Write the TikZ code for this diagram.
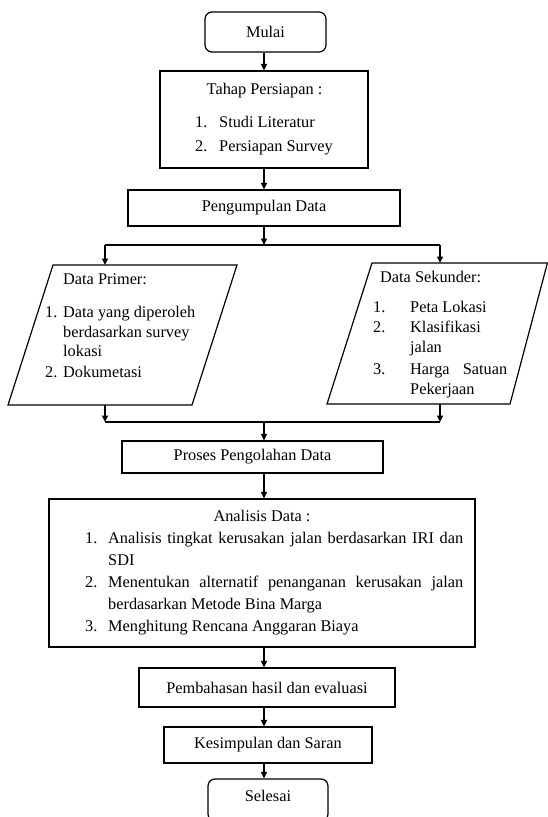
\documentclass[tikz,border=0pt]{standalone}
\usepackage{fontspec}
\setmainfont{Liberation Serif}
\usetikzlibrary{arrows.meta}
\begin{document}
\begin{tikzpicture}[x=1pt,y=-1pt,
  every node/.style={font=\fontsize{16.3}{20}\selectfont},
  box/.style={draw, line width=1.2pt, inner sep=0pt},
  rbox/.style={box, rounded corners=7pt},
  shp/.style={draw, line width=1.2pt, line join=miter},
  arr/.style={-{Triangle[length=6.5pt,width=6pt]}, line width=1.6pt},
  ln/.style={line width=1.8pt},
  txt/.style={inner sep=0pt, text height=11pt, text depth=3pt, anchor=west},
  ctxt/.style={inner sep=0pt, text height=11pt, text depth=3pt, anchor=center}
]
\useasboundingbox (0,0) rectangle (548,817);

% axis
\coordinate (ax) at (264,0);

% boxes
\node[rbox, minimum width=121pt, minimum height=40pt] (mulai) at (265.5,32) {Mulai};
\node[box, minimum width=208pt, minimum height=97pt] (tahap) at (264,119.5) {};
\node[box, minimum width=272pt, minimum height=36pt] (kumpul) at (264,208) {Pengumpulan Data};
\node[box, minimum width=261pt, minimum height=32pt] (proses) at (252.5,457) {Proses Pengolahan Data};
\node[box, minimum width=426pt, minimum height=148pt] (analisis) at (262,573) {};
\node[box, minimum width=256pt, minimum height=39pt] (bahas) at (267,687.5) {Pembahasan hasil dan evaluasi};
\node[box, minimum width=208pt, minimum height=36pt] (simpul) at (268,745) {Kesimpulan dan Saran};
\node[rbox, minimum width=120pt, minimum height=42pt] (selesai) at (268,800) {};
\node[ctxt] (selesaiT) at (268,797) {Selesai};

% tahap texts
\node[ctxt] (tahapT) at (264.5,90) {Tahap Persiapan :};
\node[txt] (t1n) at (195,123) {1.};
\node[txt] (t1) at (219,123) {Studi Literatur};
\node[txt] (t2n) at (195,147) {2.};
\node[txt] (t2) at (219,147) {Persiapan Survey};

% parallelograms
\coordinate (pa) at (53,265);
\coordinate (pb) at (237,265);
\coordinate (pc) at (192,405);
\coordinate (pd) at (8,405);
\draw[shp] (pa) -- (pb) -- (pc) -- (pd) -- cycle;
\coordinate (sa) at (372,263);
\coordinate (sb) at (547.4,263);
\coordinate (sc) at (510,404);
\coordinate (sd) at (327,404);
\draw[shp] (sa) -- (sb) -- (sc) -- (sd) -- cycle;

\coordinate (primerTop) at (105,265);
\coordinate (primerBot) at (105,405);
\coordinate (sekTop) at (440,263);
\coordinate (sekBot) at (440,404);

% primer texts
\node[txt] (pT) at (63,280) {Data Primer:};
\node[txt] (p1n) at (45,313) {1.};
\node[txt] (p1) at (63,313) {Data yang diperoleh};
\node[txt] (p1b) at (63,333) {berdasarkan survey};
\node[txt] (p1c) at (63,352) {lokasi};
\node[txt] (p2n) at (45,373) {2.};
\node[txt] (p2) at (63,373) {Dokumetasi};

% sekunder texts
\node[txt] (sT) at (380,278) {Data Sekunder:};
\node[txt] (s1n) at (373,308) {1.};
\node[txt] (s1) at (410,308) {Peta Lokasi};
\node[txt] (s2n) at (373,328) {2.};
\node[txt] (s2) at (410,328) {Klasifikasi};
\node[txt] (s2b) at (410,348) {jalan};
\node[txt] (s3n) at (373,370) {3.};
\node[txt] (s3) at (410,370) {\makebox[97pt][s]{Harga Satuan}};
\node[txt] (s3b) at (410,390) {Pekerjaan};

% analisis texts
\node[ctxt] (aT) at (262,517) {Analisis Data :};
\node[txt] (a1n) at (85,539) {1.};
\node[txt] (a1) at (108,539) {\makebox[355pt][s]{Analisis tingkat kerusakan jalan berdasarkan IRI dan}};
\node[txt] (a1b) at (108,561) {SDI};
\node[txt] (a2n) at (85,583) {2.};
\node[txt] (a2) at (108,583) {\makebox[355pt][s]{Menentukan alternatif penanganan kerusakan jalan}};
\node[txt] (a2b) at (108,605) {berdasarkan Metode Bina Marga};
\node[txt] (a3n) at (85,627) {3.};
\node[txt] (a3) at (108,627) {Menghitung Rencana Anggaran Biaya};

% split and merge lines
\coordinate (splitL) at (105,245);
\coordinate (splitR) at (440,245);
\coordinate (splitM) at (264,245);
\coordinate (mergeL) at (105,422);
\coordinate (mergeR) at (440,422);
\coordinate (mergeM) at (264,422);

% connectors
\draw[arr] (mulai.south -| ax) -- (tahap.north -| ax);
\draw[arr] (tahap.south -| ax) -- (kumpul.north -| ax);
\draw[arr] (kumpul.south -| ax) -- (splitM);
\draw[ln] (splitL) -- (splitR);
\draw[arr] (splitL) -- (primerTop);
\draw[arr] (splitR) -- (sekTop);
\draw[arr] (primerBot) -- (mergeL);
\draw[arr] (sekBot) -- (mergeR);
\draw[ln] (mergeL) -- (mergeR);
\draw[arr] (mergeM) -- (proses.north -| ax);
\draw[arr] (proses.south -| ax) -- (analisis.north -| ax);
\draw[arr] (analisis.south -| ax) -- (bahas.north -| ax);
\draw[arr] (bahas.south -| ax) -- (simpul.north -| ax);
\draw[arr] (simpul.south -| ax) -- (selesai.north -| ax);
\end{tikzpicture}
\end{document}
